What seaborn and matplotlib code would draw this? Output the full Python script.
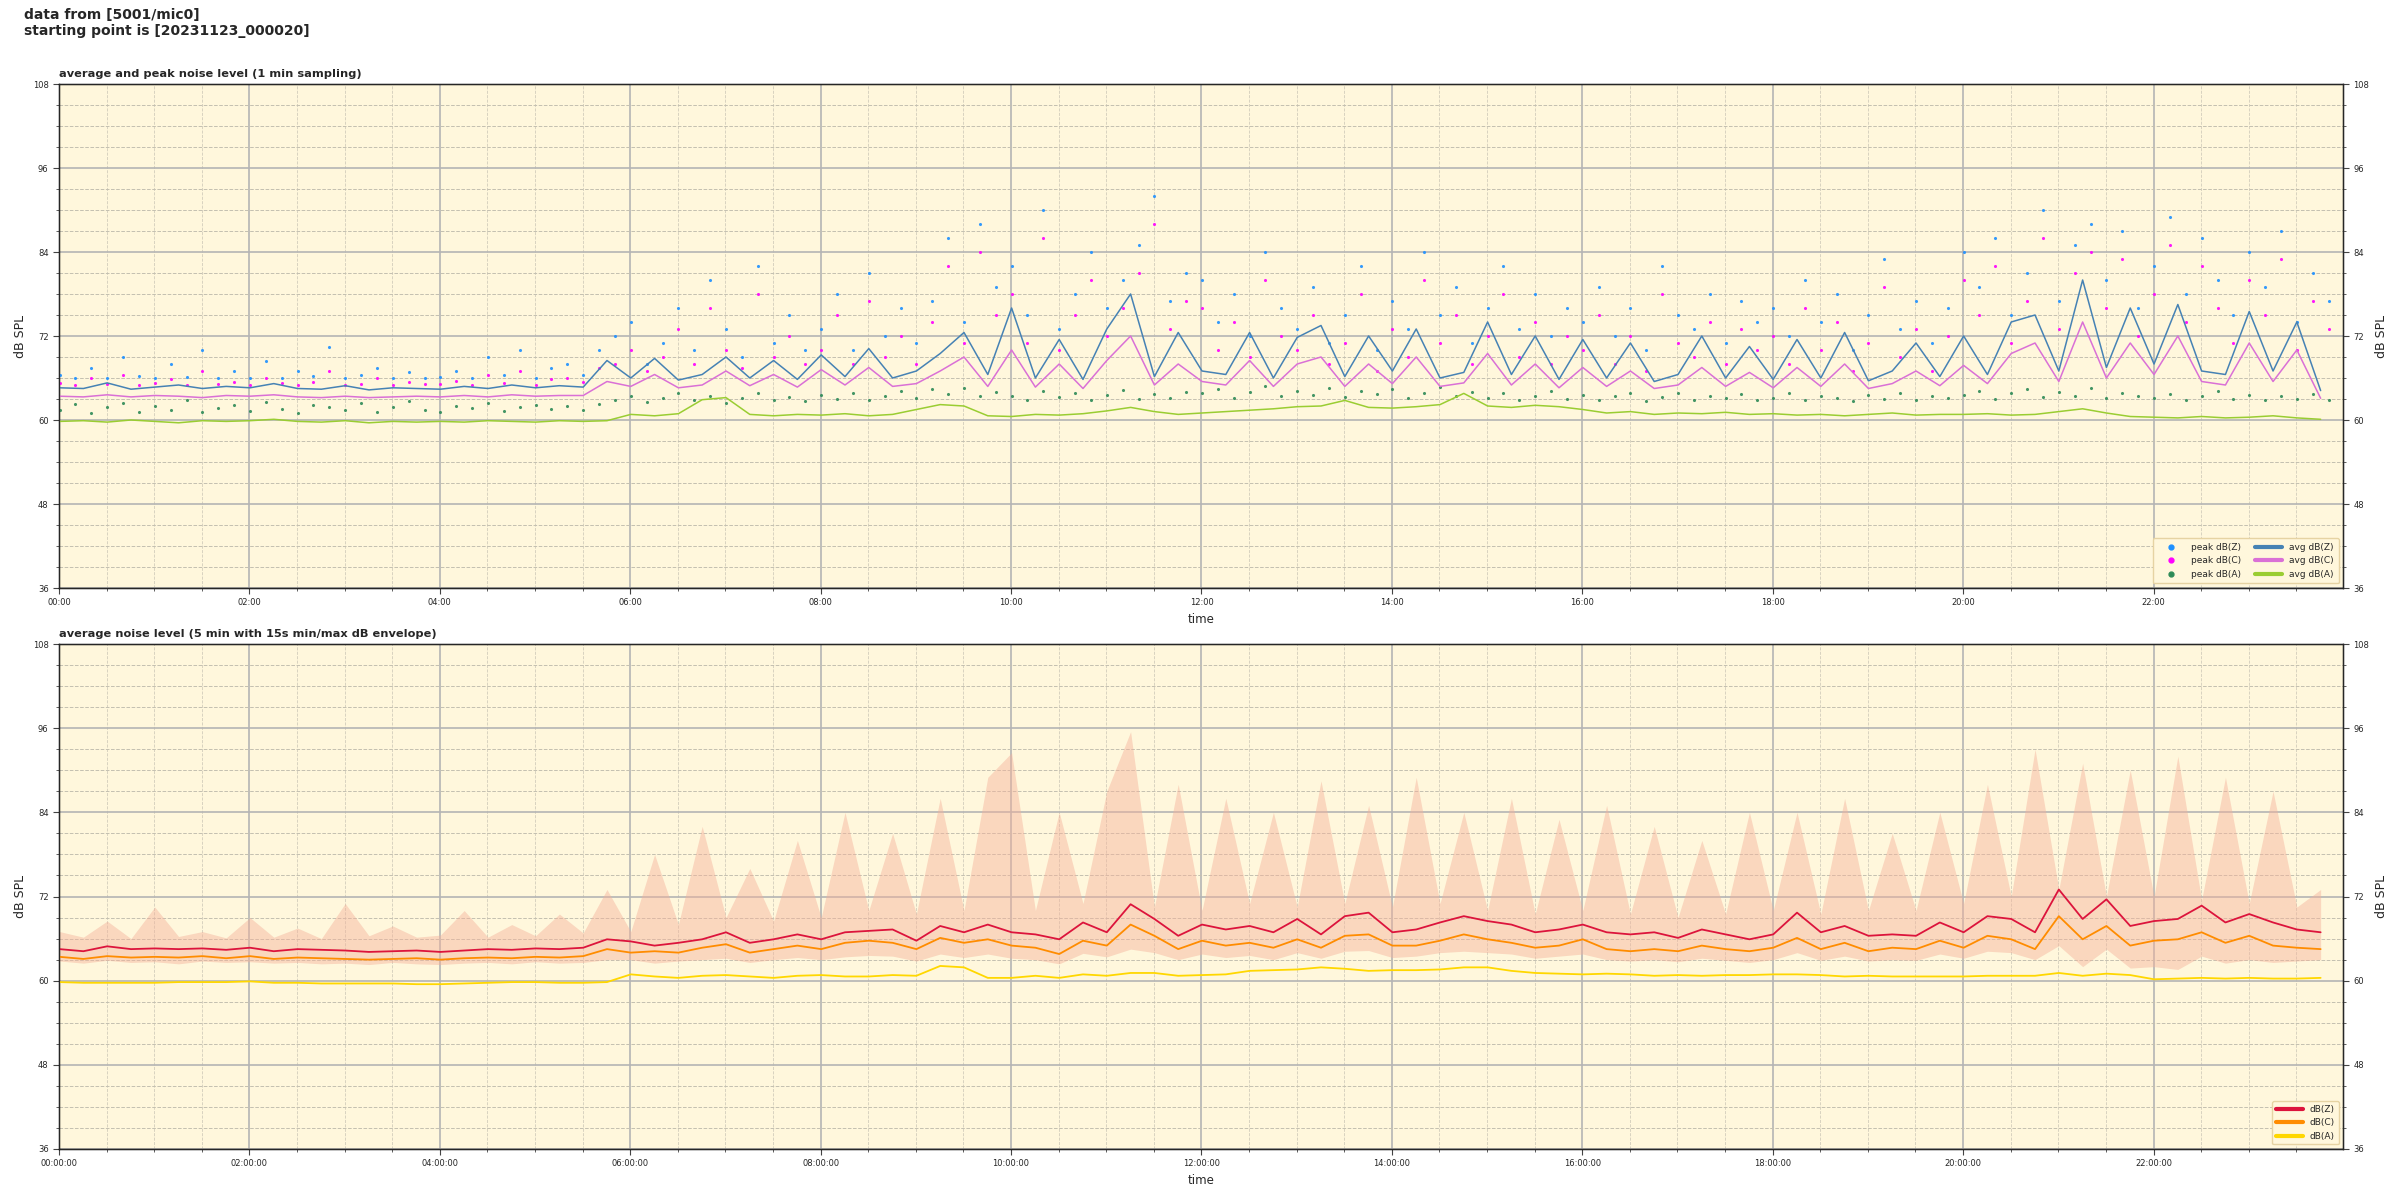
import matplotlib
import matplotlib.dates as mdates
import pandas as pd
import seaborn as sns
from matplotlib.lines import Line2D

matplotlib.use("Agg")
import matplotlib.pyplot as plt

# --- 1 min panel: averages read every 15 min (00:00 .. 23:45), dB SPL ---
avg_z = [
    64.6, 64.5, 65.3, 64.4, 64.7, 65.0, 64.5, 64.8,
    64.6, 65.2, 64.5, 64.4, 64.9, 64.3, 64.6, 64.5,
    64.4, 64.8, 64.5, 65.0, 64.6, 64.9, 64.7, 68.5,
    66.0, 68.8, 65.7, 66.5, 69.0, 66.0, 68.5, 65.8,
    69.3, 66.2, 70.2, 66.0, 67.0, 69.5, 72.5, 66.5,
    76.0, 66.0, 71.5, 65.8, 73.0, 78.0, 66.2, 72.5,
    67.0, 66.5, 72.5, 66.0, 71.8, 73.5, 66.2, 72.0,
    67.0, 73.0, 66.0, 66.8, 74.0, 66.5, 72.0, 65.8,
    71.5, 66.0, 71.0, 65.5, 66.5, 72.0, 66.0, 70.5,
    65.8, 71.5, 66.0, 72.5, 65.6, 67.0, 71.0, 66.2,
    72.0, 66.5, 74.0, 75.0, 67.0, 80.0, 67.5, 76.0,
    68.0, 76.5, 67.0, 66.5, 75.5, 67.0, 74.0, 64.2,
]
avg_c = [
    63.4, 63.3, 63.6, 63.3, 63.5, 63.4, 63.2, 63.5,
    63.4, 63.6, 63.3, 63.2, 63.4, 63.2, 63.3, 63.4,
    63.3, 63.5, 63.3, 63.6, 63.4, 63.5, 63.5, 65.5,
    64.8, 66.5, 64.6, 65.0, 67.0, 64.9, 66.5, 64.7,
    67.2, 65.0, 67.5, 64.8, 65.2, 67.0, 69.0, 64.8,
    70.0, 64.7, 68.0, 64.5, 68.5, 72.0, 65.0, 68.0,
    65.5, 65.0, 68.5, 64.8, 68.0, 69.0, 64.8, 68.0,
    65.2, 69.0, 64.8, 65.3, 69.5, 65.0, 68.0, 64.6,
    67.5, 64.8, 67.0, 64.5, 65.0, 67.5, 64.8, 66.8,
    64.6, 67.5, 64.8, 68.0, 64.5, 65.2, 67.0, 64.9,
    67.8, 65.2, 69.5, 71.0, 65.5, 74.0, 66.0, 71.0,
    66.5, 72.0, 65.5, 65.0, 71.0, 65.5, 70.0, 63.1,
]
avg_a = [
    59.8, 59.9, 59.7, 60.0, 59.8, 59.6, 59.9, 59.8,
    59.9, 60.1, 59.8, 59.7, 59.9, 59.6, 59.8, 59.7,
    59.8, 59.7, 59.9, 59.8, 59.7, 59.9, 59.8, 59.9,
    60.8, 60.6, 60.9, 62.9, 63.2, 60.8, 60.6, 60.8,
    60.7, 60.9, 60.6, 60.8, 61.5, 62.2, 62.0, 60.6,
    60.5, 60.8, 60.7, 60.9, 61.3, 61.8, 61.2, 60.8,
    61.0, 61.2, 61.4, 61.6, 61.9, 62.0, 62.8, 61.8,
    61.7, 61.9, 62.2, 63.8, 62.0, 61.8, 62.1, 61.9,
    61.5, 61.0, 61.2, 60.8, 61.0, 60.9, 61.1, 60.8,
    60.9, 60.7, 60.8, 60.6, 60.8, 61.0, 60.7, 60.8,
    60.8, 60.9, 60.7, 60.8, 61.2, 61.6, 61.0, 60.5,
    60.4, 60.3, 60.5, 60.3, 60.4, 60.6, 60.3, 60.1,
]

# --- peaks read every 10 min (00:00 .. 23:50) ---
peak_z = [
    66.5, 66.0, 67.5, 66.0, 69.0, 66.3, 66.0, 68.0, 66.2, 70.0, 66.0, 67.0,
    66.0, 68.5, 66.0, 67.0, 66.3, 70.5, 66.0, 66.5, 67.5, 66.0, 66.8, 66.0,
    66.2, 67.0, 66.0, 69.0, 66.5, 70.0, 66.0, 67.5, 68.0, 66.5, 70.0, 72.0,
    74.0, 68.0, 71.0, 76.0, 70.0, 80.0, 73.0, 69.0, 82.0, 71.0, 75.0, 70.0,
    73.0, 78.0, 70.0, 81.0, 72.0, 76.0, 71.0, 77.0, 86.0, 74.0, 88.0, 79.0,
    82.0, 75.0, 90.0, 73.0, 78.0, 84.0, 76.0, 80.0, 85.0, 92.0, 77.0, 81.0,
    80.0, 74.0, 78.0, 72.0, 84.0, 76.0, 73.0, 79.0, 71.0, 75.0, 82.0, 70.0,
    77.0, 73.0, 84.0, 75.0, 79.0, 71.0, 76.0, 82.0, 73.0, 78.0, 72.0, 76.0,
    74.0, 79.0, 72.0, 76.0, 70.0, 82.0, 75.0, 73.0, 78.0, 71.0, 77.0, 74.0,
    76.0, 72.0, 80.0, 74.0, 78.0, 70.0, 75.0, 83.0, 73.0, 77.0, 71.0, 76.0,
    84.0, 79.0, 86.0, 75.0, 81.0, 90.0, 77.0, 85.0, 88.0, 80.0, 87.0, 76.0,
    82.0, 89.0, 78.0, 86.0, 80.0, 75.0, 84.0, 79.0, 87.0, 74.0, 81.0, 77.0,
]
peak_c = [
    65.3, 65.0, 66.0, 65.2, 66.5, 65.0, 65.3, 65.8, 65.0, 67.0, 65.2, 65.5,
    65.0, 66.0, 65.3, 65.0, 65.5, 67.0, 65.0, 65.2, 66.0, 65.0, 65.4, 65.1,
    65.2, 65.6, 65.0, 66.5, 65.3, 67.0, 65.0, 65.8, 66.0, 65.4, 67.5, 68.0,
    70.0, 67.0, 69.0, 73.0, 68.0, 76.0, 70.0, 67.5, 78.0, 69.0, 72.0, 68.0,
    70.0, 75.0, 68.0, 77.0, 69.0, 72.0, 68.0, 74.0, 82.0, 71.0, 84.0, 75.0,
    78.0, 71.0, 86.0, 70.0, 75.0, 80.0, 72.0, 76.0, 81.0, 88.0, 73.0, 77.0,
    76.0, 70.0, 74.0, 69.0, 80.0, 72.0, 70.0, 75.0, 68.0, 71.0, 78.0, 67.0,
    73.0, 69.0, 80.0, 71.0, 75.0, 68.0, 72.0, 78.0, 69.0, 74.0, 68.0, 72.0,
    70.0, 75.0, 68.0, 72.0, 67.0, 78.0, 71.0, 69.0, 74.0, 68.0, 73.0, 70.0,
    72.0, 68.0, 76.0, 70.0, 74.0, 67.0, 71.0, 79.0, 69.0, 73.0, 67.0, 72.0,
    80.0, 75.0, 82.0, 71.0, 77.0, 86.0, 73.0, 81.0, 84.0, 76.0, 83.0, 72.0,
    78.0, 85.0, 74.0, 82.0, 76.0, 71.0, 80.0, 75.0, 83.0, 70.0, 77.0, 73.0,
]
peak_a = [
    61.5, 62.3, 61.0, 61.8, 62.5, 61.2, 62.0, 61.4, 62.8, 61.1, 61.7, 62.2,
    61.3, 62.6, 61.6, 61.0, 62.1, 61.9, 61.4, 62.4, 61.2, 61.8, 62.7, 61.5,
    61.1, 62.0, 61.7, 62.5, 61.3, 61.9, 62.2, 61.6, 62.0, 61.4, 62.3, 62.8,
    63.4, 62.6, 63.1, 63.8, 62.8, 63.5, 62.4, 63.2, 63.9, 62.9, 63.3, 62.7,
    63.6, 63.0, 63.9, 62.8, 63.4, 64.1, 63.1, 64.4, 63.7, 64.6, 63.4, 64.0,
    63.5, 62.9, 64.2, 63.3, 63.8, 62.8, 63.6, 64.3, 63.0, 63.7, 63.2, 64.0,
    63.8, 64.5, 63.2, 64.0, 64.8, 63.5, 64.2, 63.6, 64.6, 63.3, 64.1, 63.7,
    64.4, 63.2, 63.9, 64.7, 63.5, 64.0, 63.1, 63.8, 62.9, 63.5, 64.2, 63.0,
    63.6, 62.8, 63.4, 63.9, 62.7, 63.3, 63.8, 62.9, 63.5, 63.1, 63.7, 62.8,
    63.2, 63.8, 62.9, 63.5, 63.1, 62.7, 63.6, 63.0, 63.9, 62.8, 63.4, 63.1,
    63.6, 64.2, 63.0, 63.8, 64.4, 63.3, 64.0, 63.5, 64.6, 63.2, 63.9, 63.4,
    63.1, 63.7, 62.9, 63.5, 64.1, 63.0, 63.6, 62.8, 63.4, 63.0, 63.7, 62.9,
]

# --- 5 min panel: read every 15 min ---
lvl_z = [
    64.5, 64.2, 64.9, 64.5, 64.6, 64.5, 64.6, 64.4,
    64.7, 64.2, 64.5, 64.4, 64.3, 64.1, 64.2, 64.3,
    64.1, 64.3, 64.5, 64.4, 64.6, 64.5, 64.7, 65.9,
    65.6, 65.0, 65.4, 65.9, 66.9, 65.4, 65.9, 66.6,
    65.9, 66.9, 67.1, 67.3, 65.7, 67.8, 66.9, 68.0,
    66.9, 66.6, 65.9, 68.3, 66.9, 70.9, 68.8, 66.4,
    68.0, 67.3, 67.8, 66.9, 68.8, 66.6, 69.2, 69.7,
    66.9, 67.3, 68.3, 69.2, 68.5, 68.0, 66.9, 67.3,
    68.0, 66.9, 66.6, 66.9, 66.1, 67.3, 66.6, 65.9,
    66.6, 69.7, 66.9, 67.8, 66.4, 66.6, 66.4, 68.3,
    66.9, 69.2, 68.8, 66.9, 73.0, 68.8, 71.6, 67.8,
    68.5, 68.8, 70.7, 68.3, 69.5, 68.3, 67.3, 66.9,
]
lvl_c = [
    63.4, 63.1, 63.5, 63.3, 63.4, 63.3, 63.5, 63.2,
    63.5, 63.1, 63.3, 63.2, 63.1, 63.0, 63.1, 63.2,
    63.0, 63.2, 63.3, 63.2, 63.4, 63.3, 63.5, 64.5,
    64.0, 64.2, 64.0, 64.7, 65.2, 64.0, 64.5, 65.0,
    64.5, 65.4, 65.7, 65.4, 64.5, 66.1, 65.4, 65.9,
    65.0, 64.7, 63.8, 65.7, 65.0, 68.0, 66.4, 64.5,
    65.7, 65.0, 65.4, 64.7, 65.9, 64.7, 66.4, 66.6,
    65.0, 65.0, 65.7, 66.6, 65.9, 65.4, 64.7, 65.0,
    65.9, 64.5, 64.2, 64.5, 64.2, 65.0, 64.5, 64.2,
    64.7, 66.1, 64.5, 65.4, 64.2, 64.7, 64.5, 65.7,
    64.7, 66.4, 65.9, 64.5, 69.2, 65.9, 67.8, 65.0,
    65.7, 65.9, 66.9, 65.4, 66.4, 65.0, 64.7, 64.5,
]
lvl_a = [
    59.8, 59.7, 59.7, 59.7, 59.7, 59.8, 59.8, 59.8,
    59.9, 59.7, 59.7, 59.6, 59.6, 59.6, 59.6, 59.5,
    59.5, 59.6, 59.7, 59.8, 59.8, 59.7, 59.7, 59.8,
    60.9, 60.6, 60.4, 60.7, 60.8, 60.6, 60.4, 60.7,
    60.8, 60.6, 60.6, 60.8, 60.7, 62.1, 61.9, 60.4,
    60.4, 60.7, 60.4, 60.9, 60.7, 61.1, 61.1, 60.7,
    60.8, 60.9, 61.4, 61.5, 61.6, 61.9, 61.7, 61.4,
    61.5, 61.5, 61.6, 61.9, 61.9, 61.4, 61.1, 61.0,
    60.9, 61.0, 60.9, 60.7, 60.8, 60.7, 60.8, 60.8,
    60.9, 60.9, 60.8, 60.6, 60.7, 60.6, 60.6, 60.6,
    60.6, 60.7, 60.7, 60.7, 61.1, 60.7, 61.0, 60.8,
    60.2, 60.3, 60.4, 60.3, 60.4, 60.3, 60.3, 60.4,
]
# 15s min/max envelope of dB(Z)
env_lo = [
    62.8, 62.5, 62.9, 62.6, 62.7, 62.4, 62.8, 62.6,
    62.7, 62.5, 62.6, 62.4, 62.5, 62.3, 62.6, 62.4,
    62.3, 62.5, 62.6, 62.4, 62.7, 62.5, 62.6, 63.0,
    63.0, 62.5, 62.8, 63.0, 63.2, 62.6, 63.0, 63.3,
    63.0, 63.4, 63.6, 63.5, 62.8, 63.8, 63.3, 63.8,
    63.2, 63.0, 62.4, 63.9, 63.4, 64.5, 64.0, 63.0,
    63.8, 63.3, 63.6, 63.0, 64.0, 63.2, 64.2, 64.3,
    63.3, 63.5, 64.0, 64.2, 64.0, 63.8, 63.2, 63.5,
    63.8, 63.0, 62.8, 63.0, 62.7, 63.2, 62.9, 62.6,
    63.0, 64.0, 62.9, 63.5, 62.8, 63.0, 62.9, 63.8,
    63.2, 64.2, 64.0, 63.0, 65.0, 62.0, 64.5, 61.8,
    62.0, 61.6, 63.5, 62.5, 63.0, 62.6, 62.8, 63.0,
]
env_hi = [
    67.0, 66.2, 68.5, 66.0, 70.5, 66.3, 67.0, 66.1,
    69.0, 66.2, 67.5, 66.0, 71.0, 66.4, 67.8, 66.2,
    66.5, 70.0, 66.2, 68.0, 66.4, 69.5, 66.8, 73.0,
    67.0, 78.0, 68.0, 82.0, 69.0, 76.0, 68.5, 80.0,
    69.0, 84.0, 70.0, 81.0, 69.5, 86.0, 70.0, 89.0,
    92.5, 70.0, 84.0, 71.0, 87.0, 95.5, 70.5, 88.0,
    70.0, 86.0, 71.0, 84.0, 70.5, 88.5, 71.0, 85.0,
    70.5, 89.0, 71.0, 84.0, 70.0, 86.0, 69.5, 83.0,
    70.0, 85.0, 69.5, 82.0, 69.0, 80.0, 69.5, 84.0,
    70.0, 84.0, 69.5, 86.0, 70.0, 81.0, 70.0, 84.0,
    71.0, 88.0, 72.0, 93.0, 73.0, 91.0, 72.0, 90.0,
    72.0, 92.0, 71.5, 89.0, 71.0, 87.0, 70.5, 73.0,
]

t15 = pd.date_range("2023-11-23 00:00:20", periods=len(avg_z), freq="15min")
t10 = pd.date_range("2023-11-23 00:00:20", periods=len(peak_z), freq="10min")
x_start = pd.Timestamp("2023-11-23 00:00:00")
x_end = pd.Timestamp("2023-11-23 23:59:30")

BG = "#fff7dc"


def style_axis(ax, fmt):
    ax.set_facecolor(BG)
    ax.set_xlim(x_start, x_end)
    ax.set_ylim(36, 108)
    ax.set_yticks(range(36, 109, 12))
    ax.set_yticks(range(36, 109, 3), minor=True)
    ax.xaxis.set_major_locator(mdates.HourLocator(interval=2))
    ax.xaxis.set_minor_locator(mdates.MinuteLocator(byminute=[0, 30]))
    ax.xaxis.set_major_formatter(mdates.DateFormatter(fmt))
    ax.grid(which="major", color="#b4b4b4", linewidth=1.2, linestyle="-")
    ax.grid(which="minor", axis="y", color="#c4c0b0", linewidth=0.7, linestyle="--")
    ax.grid(which="minor", axis="x", color="#d2cdbb", linewidth=0.6, linestyle="--")
    ax.set_axisbelow(True)
    ax.tick_params(which="major", labelsize=6, length=4, direction="out", color="#444444")
    ax.tick_params(which="minor", length=2.5, direction="out", color="#444444")
    for s in ax.spines.values():
        s.set_color("black")
        s.set_linewidth(1.0)
    ax.set_xlabel("time", fontsize=8.5)
    ax.set_ylabel("dB SPL", fontsize=9)
    tw = ax.twinx()
    tw.set_ylim(36, 108)
    tw.set_yticks(range(36, 109, 12))
    tw.set_yticks(range(36, 109, 3), minor=True)
    tw.tick_params(which="major", labelsize=6, length=4, color="#444444")
    tw.tick_params(which="minor", length=2.5, color="#444444")
    tw.set_ylabel("dB SPL", fontsize=9)
    tw.grid(False)


sns.set_style("ticks")
plt.rcParams["font.family"] = ["DejaVu Sans"]

fig = plt.figure(figsize=(24, 12), dpi=100)
ax1 = fig.add_axes([0.0246, 0.51, 0.9517, 0.42])
ax2 = fig.add_axes([0.0246, 0.0425, 0.9517, 0.4208])

fig.text(0.01, 0.993, "data from [5001/mic0]\nstarting point is [20231123_000020]",
         fontsize=10, fontweight="bold", va="top", ha="left", linespacing=1.15)

# top panel
peak_cols = {"peak dB(Z)": "#1e90ff", "peak dB(C)": "#ff00ff", "peak dB(A)": "#2e8b57"}
avg_cols = {"avg dB(Z)": "#4682b4", "avg dB(C)": "#da70d6", "avg dB(A)": "#9acd32"}

for name, vals in zip(peak_cols, [peak_z, peak_c, peak_a]):
    sns.scatterplot(x=t10, y=vals, ax=ax1, color=peak_cols[name], s=5,
                    marker="o", linewidth=0, alpha=0.9, legend=False, zorder=3)
for name, vals in zip(avg_cols, [avg_z, avg_c, avg_a]):
    sns.lineplot(x=t15, y=vals, ax=ax1, color=avg_cols[name], linewidth=1.1,
                 estimator=None, legend=False, zorder=4)

style_axis(ax1, "%H:%M")
ax1.set_title("average and peak noise level (1 min sampling)", loc="left",
              fontsize=8.2, fontweight="bold", pad=5)

h1 = [Line2D([], [], marker="o", linestyle="", color=c, markersize=3.5) for c in peak_cols.values()]
h2 = [Line2D([], [], color=c, linewidth=3) for c in avg_cols.values()]
ax1.legend(h1 + h2, list(peak_cols) + list(avg_cols), ncol=2, loc="lower right",
           fontsize=6.5, frameon=True, facecolor=BG, edgecolor="#e6d3a3",
           framealpha=1.0, handlelength=3.0, borderpad=0.5, columnspacing=1.5)

# bottom panel
ax2.fill_between(t15, env_lo, env_hi, color="#f4b09a", alpha=0.45, linewidth=0, zorder=2)
lvl_cols = {"dB(Z)": "#dc143c", "dB(C)": "#ff8c00", "dB(A)": "#ffd700"}
for name, vals in zip(lvl_cols, [lvl_z, lvl_c, lvl_a]):
    sns.lineplot(x=t15, y=vals, ax=ax2, color=lvl_cols[name], linewidth=1.3,
                 estimator=None, legend=False, zorder=4)

style_axis(ax2, "%H:%M:%S")
ax2.set_title("average noise level (5 min with 15s min/max dB envelope)", loc="left",
              fontsize=8.2, fontweight="bold", pad=5)
h3 = [Line2D([], [], color=c, linewidth=3) for c in lvl_cols.values()]
ax2.legend(h3, list(lvl_cols), loc="lower right", fontsize=6.5, frameon=True,
           facecolor=BG, edgecolor="#e6d3a3", framealpha=1.0, handlelength=3.0)

fig.savefig("out.png", dpi=100)
plt.close(fig)
